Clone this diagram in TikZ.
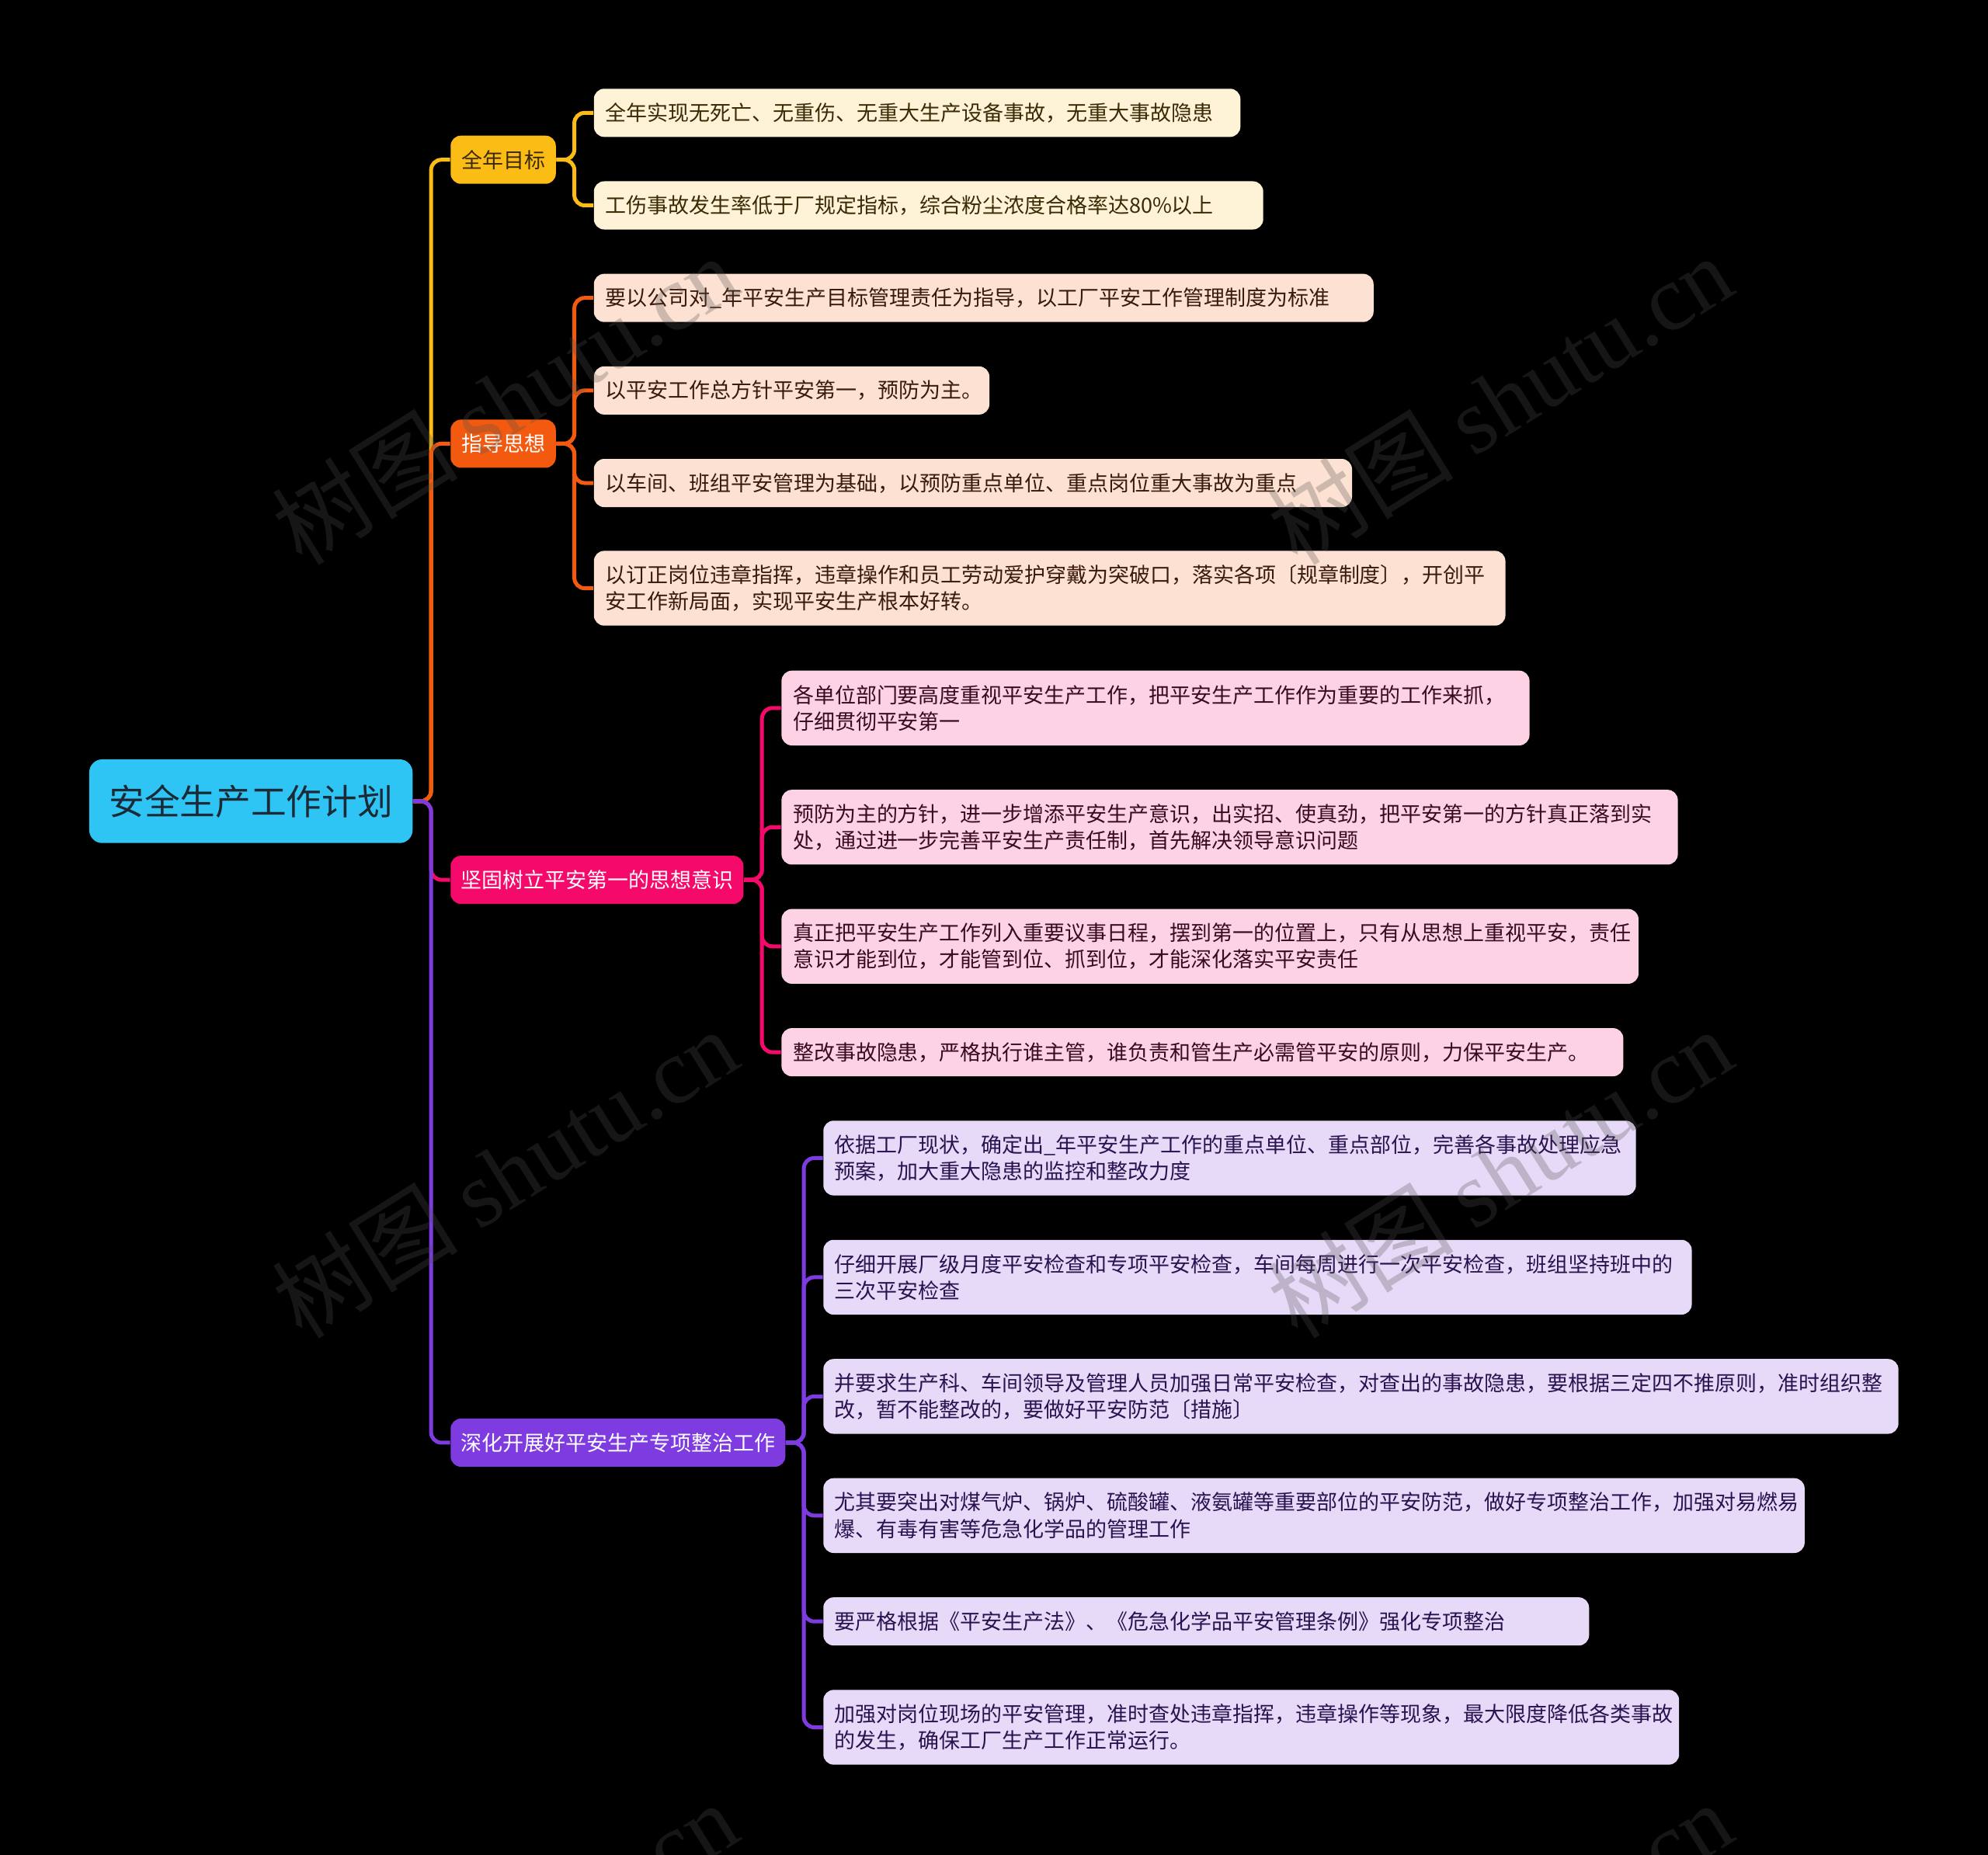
\documentclass[tikz,border=0pt]{standalone}
\usepackage{fontspec}
\setmainfont{Noto Sans CJK SC}
\newfontfamily\wmserif{Liberation Serif}
\definecolor{rootc}{HTML}{2EC5F5}
\definecolor{roott}{HTML}{1B2A36}
\definecolor{ya}{HTML}{FBBC16}
\definecolor{yal}{HTML}{FEF3D7}
\definecolor{yat}{HTML}{3A2A05}
\definecolor{ob}{HTML}{F35A10}
\definecolor{obl}{HTML}{FDE1D2}
\definecolor{obt}{HTML}{3A1A0C}
\definecolor{pc}{HTML}{F5096B}
\definecolor{pcl}{HTML}{FDD2E4}
\definecolor{pct}{HTML}{3A0A20}
\definecolor{vd}{HTML}{7D3BE0}
\definecolor{vdl}{HTML}{E7DAF8}
\definecolor{vdt}{HTML}{2A1250}
\definecolor{wmgray}{HTML}{505050}
\begin{document}
\begin{tikzpicture}[x=0.49pt,y=-0.49pt,
  leaf/.style={rounded corners=4pt, inner xsep=4.4pt, inner ysep=0pt, anchor=west, align=left,
    font=\fontsize{8.1}{10.3}\selectfont, minimum height=18.62pt},
  two/.style={minimum height=28.91pt},
  topic/.style={rounded corners=4pt, inner sep=0pt, anchor=west, align=center,
    font=\fontsize{8.1}{10}\selectfont, minimum height=18.62pt},
  link/.style={line width=1.5pt, rounded corners=4pt},
  wm/.style={text=wmgray, text opacity=0.28, rotate=32, inner sep=0pt,
    font=\fontsize{36}{36}\selectfont}
]
\fill[black] (0,0) rectangle (1568,1463);
\useasboundingbox (0,0) rectangle (1568,1463);

% root
\node[rounded corners=5pt, fill=rootc, text=roott, anchor=west, inner sep=0pt,
  minimum width=124.95pt, minimum height=32.34pt, font=\fontsize{13.7}{14}\selectfont]
  (root) at (70,632) {安全生产工作计划};

% level 1
\node[topic, fill=ya, text=yat, minimum width=40.67pt] (A) at (355,126) {全年目标};
\node[topic, fill=ob, text=white, minimum width=40.67pt] (B) at (355,350) {指导思想};
\node[topic, fill=pc, text=white, minimum width=113.19pt] (C) at (355,694) {坚固树立平安第一的思想意识};
\node[topic, fill=vd, text=white, minimum width=129.36pt] (D) at (355,1138) {深化开展好平安生产专项整治工作};

% children A
\node[leaf, fill=yal, text=yat, text width=241.08pt] (A1) at (468,89) {全年实现无死亡、无重伤、无重大生产设备事故，无重大事故隐患};
\node[leaf, fill=yal, text=yat, text width=249.9pt] (A2) at (468,162) {工伤事故发生率低于厂规定指标，综合粉尘浓度合格率达80\%以上};

% children B
\node[leaf, fill=obl, text=obt, text width=292.53pt] (B1) at (468,235) {要以公司对\_年平安生产目标管理责任为指导，以工厂平安工作管理制度为标准};
\node[leaf, fill=obl, text=obt, text width=144.06pt] (B2) at (468,308) {以平安工作总方针平安第一，预防为主。};
\node[leaf, fill=obl, text=obt, text width=284.2pt] (B3) at (468,381) {以车间、班组平安管理为基础，以预防重点单位、重点岗位重大事故为重点};
\node[leaf, two, fill=obl, text=obt, text width=343.49pt] (B4) at (468,464) {以订正岗位违章指挥，违章操作和员工劳动爱护穿戴为突破口，落实各项〔规章制度〕，开创平\\安工作新局面，实现平安生产根本好转。};

% children C
\node[leaf, two, fill=pcl, text=pct, text width=280.28pt] (C1) at (616,558.5) {各单位部门要高度重视平安生产工作，把平安生产工作作为重要的工作来抓，\\仔细贯彻平安第一};
\node[leaf, two, fill=pcl, text=pct, text width=337.61pt] (C2) at (616,652.5) {预防为主的方针，进一步增添平安生产意识，出实招、使真劲，把平安第一的方针真正落到实\\处，通过进一步完善平安生产责任制，首先解决领导意识问题};
\node[leaf, two, fill=pcl, text=pct, text width=322.42pt] (C3) at (616,746.5) {真正把平安生产工作列入重要议事日程，摆到第一的位置上，只有从思想上重视平安，责任\\意识才能到位，才能管到位、抓到位，才能深化落实平安责任};
\node[leaf, fill=pcl, text=pct, text width=316.54pt] (C4) at (616,830) {整改事故隐患，严格执行谁主管，谁负责和管生产必需管平安的原则，力保平安生产。};

% children D
\node[leaf, two, fill=vdl, text=vdt, text width=305.27pt] (D1) at (649,913.5) {依据工厂现状，确定出\_年平安生产工作的重点单位、重点部位，完善各事故处理应急\\预案，加大重大隐患的监控和整改力度};
\node[leaf, two, fill=vdl, text=vdt, text width=326.83pt] (D2) at (649,1007.5) {仔细开展厂级月度平安检查和专项平安检查，车间每周进行一次平安检查，班组坚持班中的\\三次平安检查};
\node[leaf, two, fill=vdl, text=vdt, text width=406.7pt] (D3) at (649,1101.5) {并要求生产科、车间领导及管理人员加强日常平安检查，对查出的事故隐患，要根据三定四不推原则，准时组织整\\改，暂不能整改的，要做好平安防范〔措施〕};
\node[leaf, two, fill=vdl, text=vdt, text width=370.44pt] (D4) at (649,1195.5) {尤其要突出对煤气炉、锅炉、硫酸罐、液氨罐等重要部位的平安防范，做好专项整治工作，加强对易燃易\\爆、有毒有害等危急化学品的管理工作};
\node[leaf, fill=vdl, text=vdt, text width=287.14pt] (D5) at (649,1279) {要严格根据《平安生产法》、《危急化学品平安管理条例》强化专项整治};
\node[leaf, two, fill=vdl, text=vdt, text width=321.93pt] (D6) at (649,1362.5) {加强对岗位现场的平安管理，准时查处违章指挥，违章操作等现象，最大限度降低各类事故\\的发生，确保工厂生产工作正常运行。};

% trunk coordinates
\coordinate (t0) at (340,632);
\coordinate (tA) at (453,126);
\coordinate (tB) at (453,350);
\coordinate (tC) at (601,694);
\coordinate (tD) at (634,1138);

% root -> level 1
\draw[link, ya] (root.east) -- (t0) |- (A.west);
\draw[link, ob] (root.east) -- (t0) |- (B.west);
\draw[link, pc] (root.east) -- (t0) |- (C.west);
\draw[link, vd] (root.east) -- (t0) |- (D.west);

% level 1 -> leaves
\foreach \n in {A1,A2} \draw[link, ya] (A.east) -- (tA) |- (\n.west);
\foreach \n in {B1,B2,B3,B4} \draw[link, ob] (B.east) -- (tB) |- (\n.west);
\foreach \n in {C1,C2,C3,C4} \draw[link, pc] (C.east) -- (tC) |- (\n.west);
\foreach \n in {D1,D2,D3,D4,D5,D6} \draw[link, vd] (D.east) -- (tD) |- (\n.west);

% watermarks
\node[wm] (w1) at (398,315) {树图 {\wmserif shutu.cn}};
\node[wm] (w2) at (1183,315) {树图 {\wmserif shutu.cn}};
\node[wm] (w3) at (398,925) {树图 {\wmserif shutu.cn}};
\node[wm] (w4) at (1183,925) {树图 {\wmserif shutu.cn}};
\node[wm] (w5) at (398,1535) {树图 {\wmserif shutu.cn}};
\node[wm] (w6) at (1183,1535) {树图 {\wmserif shutu.cn}};
\end{tikzpicture}
\end{document}
